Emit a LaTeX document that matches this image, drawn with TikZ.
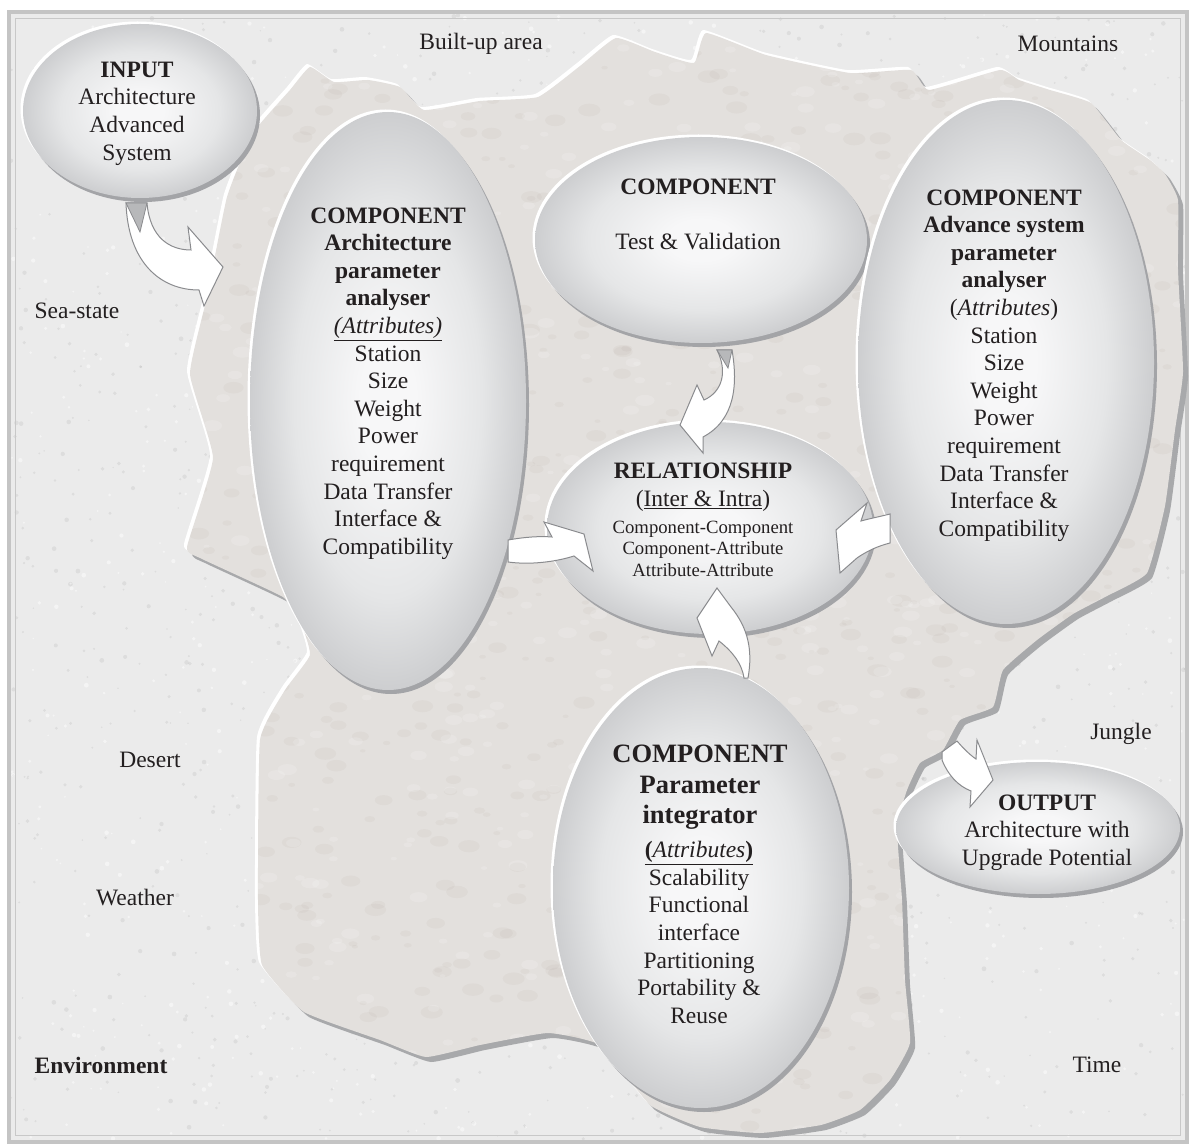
\documentclass[tikz,border=0pt]{standalone}
\usepackage{fontspec}
\setmainfont{Liberation Serif}
\usetikzlibrary{shapes.geometric}
\definecolor{bg}{HTML}{EBEBEB}
\definecolor{framegray}{HTML}{C4C4C4}
\definecolor{frameinner}{HTML}{C8C8C8}
\definecolor{blobfill}{HTML}{E3E0DD}
\definecolor{blobshadow}{HTML}{A8A9AB}
\definecolor{ellc}{HTML}{F7F7F8}
\definecolor{ellm}{HTML}{E5E6E7}
\definecolor{elle}{HTML}{CDCED0}
\definecolor{ellshadow}{HTML}{A3A4A7}
\definecolor{arrowline}{HTML}{8A8B8E}
\definecolor{tailgray}{HTML}{B7B8BA}
\definecolor{ink}{HTML}{231F20}
\pgfdeclareradialshading{ellshade}{\pgfpoint{0bp}{0bp}}{color(0bp)=(ellc); color(5bp)=(ellc); color(17bp)=(ellm); color(25bp)=(elle); color(50bp)=(elle)}
\newcommand{\mybubble}[5]{%
  \fill[ellshadow] (#2+3,#3+4) ellipse [x radius=#4pt, y radius=#5pt];
  \fill[white] (#2-2.5,#3-2.5) ellipse [x radius=#4pt, y radius=#5pt];
  \node[bubble, minimum width=#4pt*2, minimum height=#5pt*2] (#1) at (#2,#3) {};
}
\newcommand{\blobshape}[2]{%
  #1[#2] plot[smooth cycle, tension=0.25] coordinates {
  (310,67) (334,82) (368,80) (400,87) (424,110) (480,101) (538,97) (580,66)
  (616,38) (655,52) (694,63) (706,33) (766,55) (850,73) (911,70) (929,90)
  (1000,70) (1019,80) (1050,90) (1091,103) (1121,140) (1150,160) (1165,174)
  (1178,200) (1178,270) (1183,372) (1175,430) (1165,506) (1147,573) (1107,596)
  (1073,614) (1037,640) (1003,670) (993,707) (960,720) (943,750) (920,763)
  (907,790) (897,827) (902,900) (905,980) (910,1043) (890,1080) (860,1110)
  (821,1125) (760,1133) (700,1127) (650,1105) (600,1045) (548,1033) (480,1045)
  (426,1057) (380,1040) (304,1012) (262,965) (258,900) (260,740) (285,690)
  (310,655) (300,620) (283,597) (200,558) (187,547) (213,458) (190,374)
  (207,297) (227,197) (253,133) (290,90)};
}
\begin{document}
\begin{tikzpicture}[x=1pt,y=-1pt,
  txt/.style={font=\fontsize{23.5}{27.6}\selectfont, align=center, inner sep=0pt, text=ink},
  lab/.style={font=\fontsize{23.5}{27.6}\selectfont, inner sep=0pt, text=ink},
  bubble/.style={ellipse, inner sep=0pt, shading=ellshade},
  blockarrow/.style={fill=white, draw=arrowline, line width=1pt, line join=miter},
  tail/.style={fill=tailgray, draw=arrowline, line width=0.8pt}]
\useasboundingbox (0,0) rectangle (1192,1147);
% page and frame
\fill[white] (0,0) rectangle (1192,1147);
\fill[bg] (9,12) rectangle (1187,1142);
\pgfmathsetseed{7}
\begin{scope}
\clip (11,14) rectangle (1185,1140);
\foreach \i in {1,...,1400} {
  \pgfmathsetmacro{\px}{11+1174*rnd}
  \pgfmathsetmacro{\py}{14+1126*rnd}
  \pgfmathsetmacro{\rr}{0.8+1.6*rnd}
  \fill[black, opacity=0.06] (\px,\py) circle [radius=\rr pt];
}
\foreach \i in {1,...,1000} {
  \pgfmathsetmacro{\px}{11+1174*rnd}
  \pgfmathsetmacro{\py}{14+1126*rnd}
  \pgfmathsetmacro{\rr}{0.8+1.6*rnd}
  \fill[white, opacity=0.45] (\px,\py) circle [radius=\rr pt];
}
\end{scope}
\draw[framegray, line width=4pt] (9,12) rectangle (1187,1142);
\draw[frameinner, line width=1.5pt] (15.5,18.5) rectangle (1180.5,1135.5);
% rocky blob
\blobshape{\fill}{blobshadow, shift={(5,5)}}
\blobshape{\fill}{white, shift={(-3,-3)}}
\blobshape{\fill}{blobfill}
\begin{scope}
\blobshape{\clip}{}
\foreach \i in {1,...,900} {
  \pgfmathsetmacro{\px}{180+1010*rnd}
  \pgfmathsetmacro{\py}{30+1110*rnd}
  \pgfmathsetmacro{\rr}{2+6*rnd}
  \fill[brown!40!black, opacity=0.03] (\px,\py) ellipse [x radius=\rr pt*1.4, y radius=\rr pt*0.8];
}
\foreach \i in {1,...,700} {
  \pgfmathsetmacro{\px}{180+1010*rnd}
  \pgfmathsetmacro{\py}{30+1110*rnd}
  \pgfmathsetmacro{\rr}{2+5*rnd}
  \fill[white, opacity=0.15] (\px,\py) ellipse [x radius=\rr pt*1.4, y radius=\rr pt*0.8];
}
\end{scope}
% outside labels
\node[lab] (lBuilt) at (481,44) {Built-up area};
\node[lab] (lMount) at (1068,44) {Mountains};
\node[lab] (lSea) at (77,311) {Sea-state};
\node[lab] (lDesert) at (150,760) {Desert};
\node[lab] (lWeather) at (135,898) {Weather};
\node[lab, font=\fontsize{23.5}{27.6}\selectfont\bfseries] (lEnv) at (101,1065) {Environment};
\node[lab] (lTime) at (1097,1065) {Time};
\node[lab] (lJungle) at (1121,734) {Jungle};
% bubbles
\mybubble{input}{140}{111}{117}{87}
\mybubble{arch}{388}{401}{138}{289}
\mybubble{test}{701}{240}{166}{103}
\mybubble{rel}{710}{528}{163}{106}
\mybubble{adv}{1006}{362}{148}{262}
\mybubble{integ}{701}{888}{148}{220}
\mybubble{output}{1038}{828}{142}{66}
% block arrows
% input -> arch
\draw[blockarrow] (126,203) .. controls (128,262) and (160,290) .. (199,290) -- (204,306) -- (223,267) -- (188,227) -- (191,250) .. controls (170,250) and (150,238) .. (147,203) -- cycle;
\draw[tail] (126,203) -- (147,203) -- (140,232) -- cycle;
% test -> rel
\draw[blockarrow] (717,350) .. controls (728,372) and (722,392) .. (704,400) -- (697,385) -- (680,425) -- (703,453) -- (703,437) .. controls (735,420) and (738,385) .. (732,350) -- cycle;
\draw[tail] (717,350) -- (732,350) -- (728,368) -- cycle;
% arch -> rel
\draw[blockarrow] (508,540) .. controls (525,537) and (540,536) .. (552,537) -- (544,522) -- (584,534) -- (593,571) -- (574,556) .. controls (555,562) and (530,565) .. (508,562) -- cycle;
% adv -> rel
\draw[blockarrow] (890,514) .. controls (878,517) and (868,519) .. (861,521) -- (867,503) -- (836,530) -- (840,573) -- (857,558) .. controls (867,551) and (878,546) .. (890,543) -- cycle;
% integ -> rel
\draw[blockarrow] (748,678) .. controls (753,650) and (748,628) .. (731,607) -- (717,588) -- (697,618) -- (712,656) -- (719,641) .. controls (733,652) and (742,664) .. (744,678) -- cycle;
% blob -> output
\draw[blockarrow] (942,752) -- (957,741) .. controls (963,748) and (970,755) .. (976,759) -- (977,740) -- (993,780) -- (970,807) -- (971,791) .. controls (958,786) and (948,775) .. (942,760) -- cycle;
% texts
\node[txt] (tInput) at (137,113.5) {\textbf{INPUT}\\Architecture\\Advanced\\System};
\node[txt] (tArch) at (388,383.5) {\textbf{COMPONENT}\\\textbf{Architecture}\\\textbf{parameter}\\\textbf{analyser}\\\underline{\textit{(Attributes)}}\\Station\\Size\\Weight\\Power\\requirement\\Data Transfer\\Interface \&\\Compatibility};
\node[txt] (tTest) at (698,214.5) {\textbf{COMPONENT}\\[27.6pt]Test \& Validation};
\node[txt] (tRelA) at (703,487.5) {\textbf{RELATIONSHIP}\\(\underline{Inter \& Intra})};
\node[txt, font=\fontsize{18.7}{21.5}\selectfont] (tRelB) at (703,548.5) {Component-Component\\Component-Attribute\\Attribute-Attribute};
\node[txt] (tAdv) at (1004,365.5) {\textbf{COMPONENT}\\\textbf{Advance system}\\\textbf{parameter}\\\textbf{analyser}\\(\textit{Attributes})\\Station\\Size\\Weight\\Power\\requirement\\Data Transfer\\Interface \&\\Compatibility};
\node[txt, font=\fontsize{26.5}{30.5}\selectfont\bfseries] (tIntA) at (700,787.5) {COMPONENT\\Parameter\\integrator};
\node[txt] (tIntB) at (699,932.5) {\underline{\textbf{(}\textit{Attributes}\textbf{)}}\\Scalability\\Functional\\interface\\Partitioning\\Portability \&\\Reuse};
\node[txt] (tOut) at (1047,832.5) {\textbf{OUTPUT}\\Architecture with\\Upgrade Potential};
\end{tikzpicture}
\end{document}
